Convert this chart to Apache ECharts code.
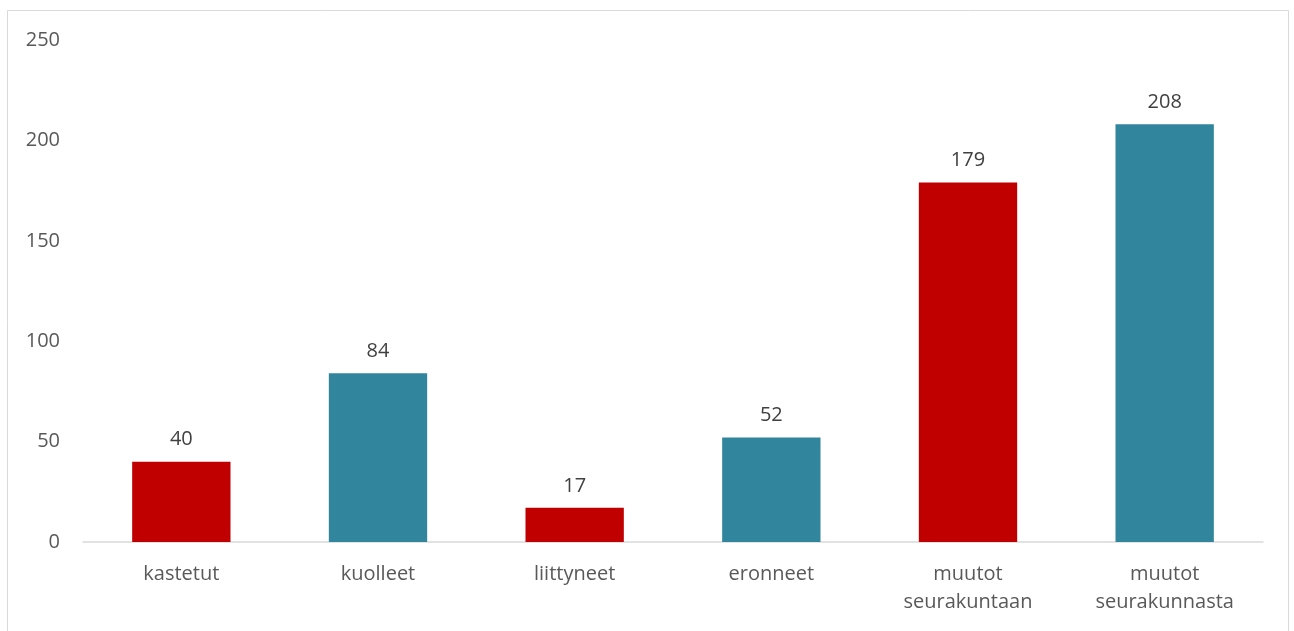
<!DOCTYPE html>
<html><head><meta charset="utf-8">
<script src="https://cdn.jsdelivr.net/npm/echarts@6/dist/echarts.min.js"></script>
<style>html,body{margin:0;padding:0;background:#fff}#c{width:1294px;height:631px}</style>
</head><body><div id="c"></div>
<script>
const categories = ['kastetut', 'kuolleet', 'liittyneet', 'eronneet', 'muutot\nseurakuntaan', 'muutot\nseurakunnasta'];
const values = [40, 84, 17, 52, 179, 208];
const barColors = ['#C00000', '#31859C', '#C00000', '#31859C', '#C00000', '#31859C'];
const yTicks = { min: 0, max: 250, interval: 50 };

const chart = echarts.init(document.getElementById('c'));
const font = '"Open Sans", "Noto Sans", sans-serif';
chart.setOption({
  animation: false,
  textStyle: { fontFamily: font },
  graphic: [{ type: 'rect', shape: { x: 7.5, y: 10.5, width: 1281, height: 630 }, style: { fill: 'none', stroke: '#d9d9d9', lineWidth: 1 }, silent: true }],
  grid: { left: 83, right: 31, top: 40, bottom: 89, containLabel: false },
  xAxis: {
    type: 'category', data: categories,
    axisLine: { lineStyle: { color: '#d9d9d9', width: 1.5 } },
    axisTick: { show: false },
    axisLabel: { color: '#595959', fontSize: 20, fontFamily: font, margin: 18, lineHeight: 28 }
  },
  yAxis: {
    type: 'value', min: yTicks.min, max: yTicks.max, interval: yTicks.interval,
    axisLine: { show: false }, axisTick: { show: false }, splitLine: { show: false },
    axisLabel: { color: '#595959', fontSize: 20, fontFamily: font, margin: 23 }
  },
  series: [{
    type: 'bar', barWidth: '50%',
    data: values.map((v, i) => ({ value: v, itemStyle: { color: barColors[i] } })),
    label: { show: true, position: 'top', distance: 12, color: '#404040', fontSize: 20, fontFamily: font }
  }]
});
</script></body></html>
